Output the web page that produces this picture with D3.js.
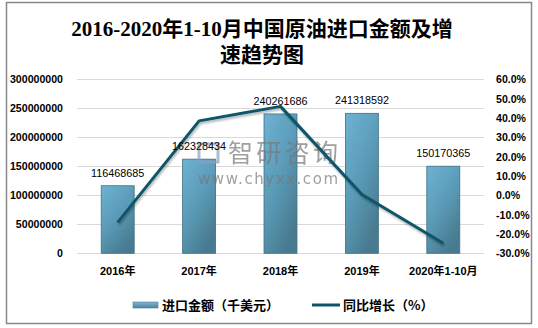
<!DOCTYPE html>
<html>
<head>
<meta charset="utf-8">
<script src="https://cdn.jsdelivr.net/npm/d3@7"></script>
<style>
  html, body { margin: 0; padding: 0; background: #fff; }
  svg { display: block; }
</style>
</head>
<body>
<svg id="chart" width="538" height="328"></svg>
<script>
// Crude oil import value (thousand USD) and year-on-year growth (%)
const categories = ["2016年", "2017年", "2018年", "2019年", "2020年1-10月"];
const importValues = [116468685, 162328434, 240261686, 241318592, 150170365];
const growthRates = [-14.0, 38.5, 46.0, 0.4, -24.8];
const leftTicks = [0, 50000000, 100000000, 150000000, 200000000, 250000000, 300000000];
const rightTicks = [-30, -20, -10, 0, 10, 20, 30, 40, 50, 60];
const titleLines = ["2016-2020年1-10月中国原油进口金额及增", "速趋势图"];
const legendLabels = ["进口金额（千美元）", "同比增长（%）"];

const svg = d3.select("#chart");
const plot = { left: 77, right: 484, top: 79.3, bottom: 253.3 };

const defs = svg.append("defs");
const grad = defs.append("linearGradient").attr("id", "barGrad")
  .attr("x1", "0").attr("y1", "0").attr("x2", "0.6").attr("y2", "1");
grad.append("stop").attr("offset", "0%").attr("stop-color", "#6db3d3");
grad.append("stop").attr("offset", "55%").attr("stop-color", "#5a9ab6");
grad.append("stop").attr("offset", "100%").attr("stop-color", "#487b90");
const lgGrad = defs.append("linearGradient").attr("id", "legGrad")
  .attr("x1", "0").attr("y1", "0").attr("x2", "0").attr("y2", "1");
lgGrad.append("stop").attr("offset", "0%").attr("stop-color", "#7ab8d4");
lgGrad.append("stop").attr("offset", "100%").attr("stop-color", "#4d8299");
const shadow = defs.append("filter").attr("id", "lineShadow")
  .attr("x", "-10%").attr("y", "-10%").attr("width", "120%").attr("height", "130%");
shadow.append("feDropShadow").attr("dx", 1).attr("dy", 2).attr("stdDeviation", 1.2)
  .attr("flood-color", "#000").attr("flood-opacity", 0.3);

// outer frame
svg.append("rect").attr("x", 6.5).attr("y", 2.5).attr("width", 525).attr("height", 321)
  .attr("fill", "#fff").attr("stroke", "#898989").attr("stroke-width", 1.5);

// title
const title = svg.append("text").attr("text-anchor", "middle")
  .style("font-family", "'Liberation Serif', 'Noto Sans CJK SC', serif")
  .style("font-weight", "bold").style("font-size", "21px").attr("fill", "#000");
titleLines.forEach((t, i) => {
  title.append("tspan").attr("x", 262).attr("y", 36 + i * 26).text(t);
});

const x = d3.scaleBand().domain(categories).range([plot.left, plot.right]).paddingInner(0.595).paddingOuter(0.2975);
const yL = d3.scaleLinear().domain([0, 300000000]).range([plot.bottom, plot.top]);
const yR = d3.scaleLinear().domain([-30, 60]).range([plot.bottom, plot.top]);

// gridlines
svg.append("g").selectAll("line").data(leftTicks).join("line")
  .attr("x1", plot.left).attr("x2", plot.right)
  .attr("y1", d => Math.round(yL(d)) + 0.5).attr("y2", d => Math.round(yL(d)) + 0.5)
  .attr("stroke", "#d9d9d9").attr("stroke-width", 1);

const axisFont = "'Liberation Sans', Arial, 'Noto Sans CJK SC', sans-serif";

// left axis
const axL = svg.append("g").attr("transform", `translate(${plot.left - 14},0)`)
  .call(d3.axisLeft(yL).tickValues(leftTicks).tickFormat(d3.format("d")).tickSize(0).tickPadding(0));
axL.select(".domain").remove();
axL.selectAll("text").style("font-family", axisFont).style("font-weight", "bold")
  .style("font-size", "10.6px").attr("fill", "#000");

// right axis
const axR = svg.append("g").attr("transform", `translate(${plot.right + 12},0)`)
  .call(d3.axisRight(yR).tickValues(rightTicks).tickFormat(d => d.toFixed(1) + "%").tickSize(0).tickPadding(0));
axR.select(".domain").remove();
axR.selectAll("text").style("font-family", axisFont).style("font-weight", "bold")
  .style("font-size", "10.6px").attr("fill", "#000");

// category axis
const axX = svg.append("g").attr("transform", `translate(0,${plot.bottom + 14})`)
  .call(d3.axisBottom(x).tickSize(0).tickPadding(0));
axX.select(".domain").remove();
axX.selectAll("text").style("font-family", axisFont).style("font-weight", "bold")
  .style("font-size", "11px").attr("fill", "#000");

// bars
svg.append("g").selectAll("rect").data(importValues).join("rect")
  .attr("x", (d, i) => x(categories[i]))
  .attr("y", d => yL(d))
  .attr("width", x.bandwidth())
  .attr("height", d => plot.bottom - yL(d))
  .attr("fill", "url(#barGrad)")
  .attr("stroke", "#3f6f83").attr("stroke-width", 0.8);

// watermark
const wm = svg.append("g").attr("opacity", 0.7);
wm.append("rect").attr("x", 199).attr("y", 144).attr("width", 19).attr("height", 18)
  .attr("fill", "none").attr("stroke", "#8aa0c0").attr("stroke-width", 3);
wm.append("text").attr("x", 228).attr("y", 162)
  .style("font-family", "'Noto Sans CJK SC', sans-serif").style("font-size", "25px")
  .attr("fill", "#777").attr("textLength", 110).text("智研咨询");
wm.append("text").attr("x", 198).attr("y", 184)
  .style("font-family", "'DejaVu Sans', sans-serif").style("font-size", "15px")
  .attr("fill", "#777").attr("textLength", 140).text("www.chyxx.com");

// growth line
const line = d3.line()
  .x((d, i) => x(categories[i]) + x.bandwidth() / 2)
  .y(d => yR(d));
svg.append("path").datum(growthRates).attr("d", line)
  .attr("fill", "none").attr("stroke", "#0f5469").attr("stroke-width", 3)
  .attr("stroke-linejoin", "round").attr("filter", "url(#lineShadow)");

// bar value labels
svg.append("g").selectAll("text").data(importValues).join("text")
  .attr("x", (d, i) => x(categories[i]) + x.bandwidth() / 2)
  .attr("y", d => yL(d) - 9)
  .attr("text-anchor", "middle")
  .style("font-family", "'Liberation Sans', Arial, sans-serif").style("font-size", "10.8px")
  .attr("fill", "#000").text(d => d);

// legend
const lg = svg.append("g");
lg.append("rect").attr("x", 133).attr("y", 302).attr("width", 25).attr("height", 6)
  .attr("fill", "url(#legGrad)").attr("stroke", "#4a7d92").attr("stroke-width", 0.6);
lg.append("text").attr("x", 162).attr("y", 310)
  .style("font-family", "'Noto Sans CJK SC', sans-serif").style("font-weight", "bold")
  .style("font-size", "13px").attr("fill", "#000").text(legendLabels[0]);
lg.append("line").attr("x1", 312).attr("x2", 340).attr("y1", 305).attr("y2", 305)
  .attr("stroke", "#0f5469").attr("stroke-width", 3);
lg.append("text").attr("x", 343).attr("y", 310)
  .style("font-family", "'Noto Sans CJK SC', sans-serif").style("font-weight", "bold")
  .style("font-size", "13px").attr("fill", "#000").text(legendLabels[1]);
</script>
</body>
</html>
